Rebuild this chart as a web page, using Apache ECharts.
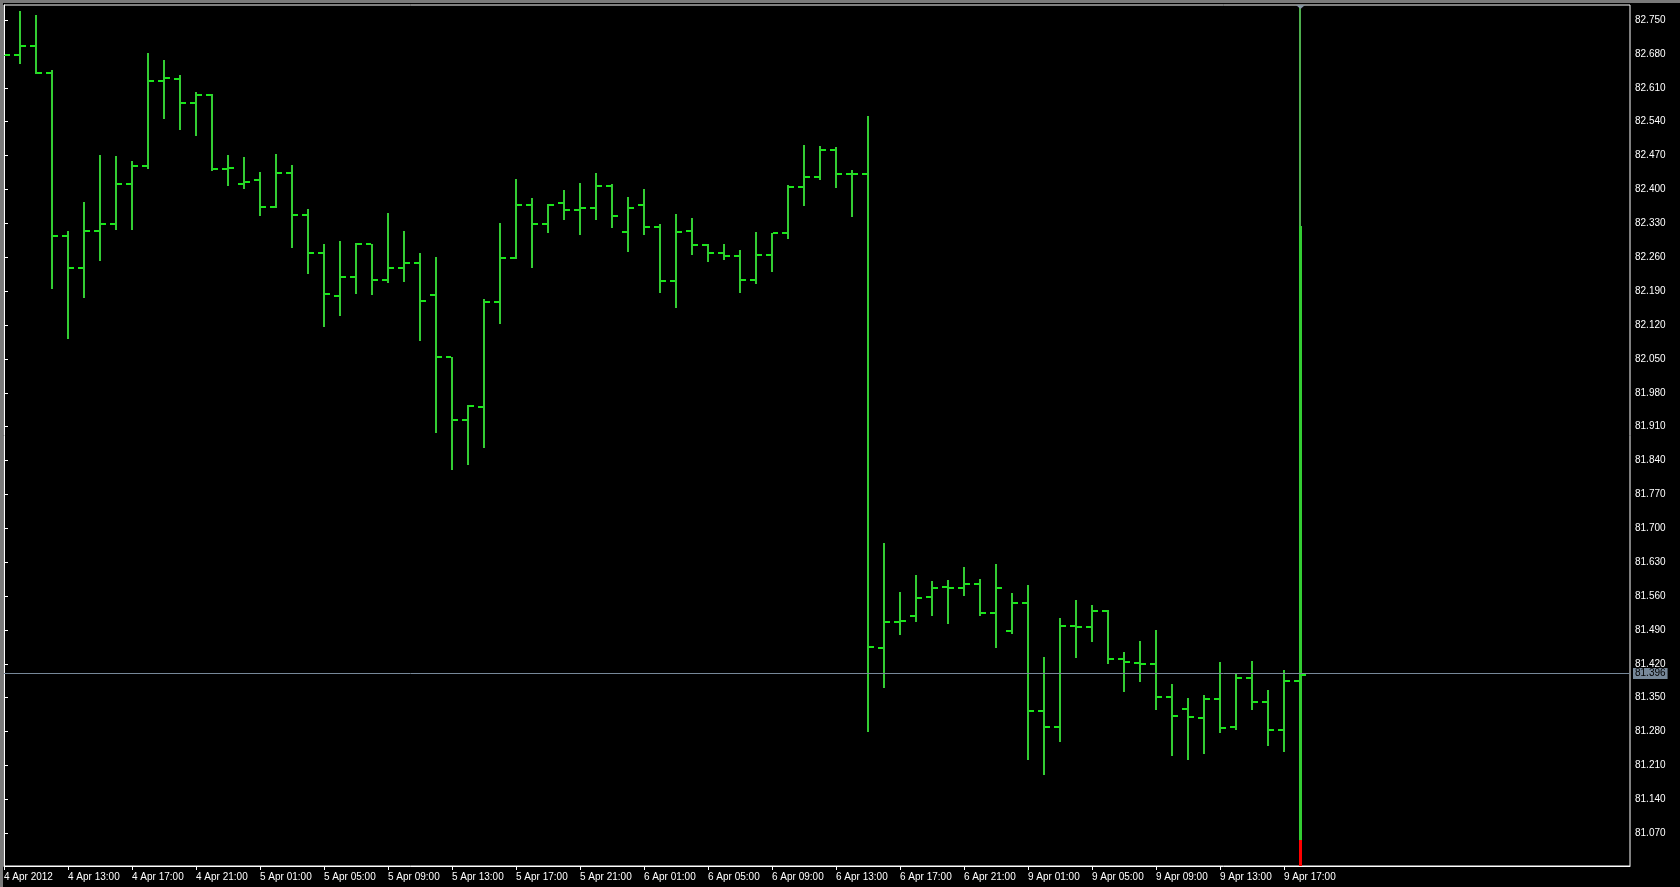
<!DOCTYPE html>
<html>
<head>
<meta charset="utf-8">
<script src="https://cdn.jsdelivr.net/npm/echarts@6/dist/echarts.min.js"></script>
<style>
html,body{margin:0;padding:0;background:#000;}
#chart{width:1680px;height:887px;}
</style>
</head>
<body>
<div id="chart"></div>
<script>
// ---- data (hourly bars, 4 Apr 2012 09:00 -> 9 Apr 2012 18:00) ----
const openPrices = [82.678,82.678,82.697,82.641,82.304,82.238,82.315,82.329,82.412,82.449,
  82.625,82.628,82.579,82.596,82.442,82.412,82.419,82.364,82.434,82.347,
  82.269,82.180,82.220,82.288,82.213,82.238,82.249,82.182,82.054,81.923,
  81.951,82.168,82.259,82.368,82.328,82.372,82.358,82.362,82.407,82.312,
  82.368,82.323,82.211,82.315,82.285,82.269,82.262,82.213,82.264,82.310,
  82.405,82.426,82.481,82.432,82.432,81.453,81.506,81.519,81.558,81.578,
  81.576,81.585,81.525,81.488,81.546,81.322,81.290,81.498,81.496,81.529,
  81.430,81.422,81.419,81.352,81.327,81.308,81.348,81.290,81.391,81.341,
  81.283,81.385];
const highPrices = [82.678,82.769,82.760,82.647,82.314,82.374,82.471,82.469,82.459,82.682,
  82.667,82.636,82.601,82.597,82.471,82.467,82.436,82.473,82.450,82.359,
  82.287,82.293,82.290,82.288,82.351,82.314,82.268,82.260,82.054,81.954,
  82.173,82.330,82.421,82.382,82.370,82.399,82.413,82.433,82.411,82.384,
  82.400,82.328,82.349,82.342,82.288,82.287,82.274,82.313,82.311,82.410,
  82.491,82.489,82.487,82.441,82.552,81.669,81.568,81.603,81.591,81.593,
  81.620,81.595,81.626,81.566,81.582,81.434,81.514,81.551,81.541,81.532,
  81.444,81.467,81.490,81.378,81.349,81.355,81.423,81.400,81.425,81.366,
  81.407,82.324];
const lowPrices = [82.678,82.662,82.641,82.196,82.093,82.178,82.254,82.319,82.319,82.444,
  82.547,82.525,82.513,82.441,82.410,82.403,82.348,82.363,82.282,82.228,
  82.118,82.141,82.186,82.184,82.209,82.211,82.089,81.899,81.822,81.833,
  81.868,82.125,82.258,82.240,82.313,82.339,82.308,82.339,82.323,82.273,
  82.308,82.189,82.158,82.267,82.253,82.257,82.189,82.207,82.232,82.300,
  82.368,82.422,82.406,82.346,81.281,81.372,81.482,81.509,81.520,81.505,
  81.562,81.521,81.454,81.484,81.224,81.193,81.261,81.434,81.467,81.422,
  81.364,81.385,81.327,81.232,81.224,81.236,81.279,81.286,81.327,81.252,
  81.240,81.058];
const closePrices = [82.678,82.697,82.641,82.304,82.238,82.315,82.329,82.412,82.449,82.625,
  82.631,82.579,82.596,82.442,82.445,82.416,82.364,82.434,82.347,82.269,
  82.184,82.220,82.288,82.213,82.238,82.249,82.169,82.054,81.923,81.953,
  82.168,82.259,82.368,82.328,82.368,82.357,82.362,82.407,82.345,82.362,
  82.323,82.211,82.312,82.285,82.269,82.262,82.213,82.264,82.310,82.405,
  82.426,82.481,82.432,82.432,81.454,81.506,81.509,81.556,81.576,81.576,
  81.585,81.525,81.576,81.546,81.322,81.290,81.498,81.496,81.529,81.430,
  81.424,81.420,81.352,81.312,81.310,81.348,81.288,81.391,81.341,81.283,
  81.385,81.396];
// last bar extremes beyond its main body (dim upper wick, red lower part)
const lastSpikeTop = 82.780;
const lastSpikeBottom = 81.003;
const bidPrice = 81.396;

const timeLabels = ["4 Apr 2012","4 Apr 13:00","4 Apr 17:00","4 Apr 21:00","5 Apr 01:00","5 Apr 05:00",
  "5 Apr 09:00","5 Apr 13:00","5 Apr 17:00","5 Apr 21:00","6 Apr 01:00","6 Apr 05:00","6 Apr 09:00",
  "6 Apr 13:00","6 Apr 17:00","6 Apr 21:00","9 Apr 01:00","9 Apr 05:00","9 Apr 09:00","9 Apr 13:00","9 Apr 17:00"];
const timeLabelBars = timeLabels.map((_, k) => k * 4);
const priceTicks = [81.070,81.140,81.210,81.280,81.350,81.420,81.490,81.560,81.630,81.700,81.770,81.840,
  81.910,81.980,82.050,82.120,82.190,82.260,82.330,82.400,82.470,82.540,82.610,82.680,82.750];

// ---- chart ----
const LINE = '#33cc33';
const TICK = '#1ae61a';
const barData = openPrices.map((o, i) => [i, o, highPrices[i], lowPrices[i], closePrices[i]]);
const lastIndex = barData.length - 1;

function renderBar(params, api) {
  const i = api.value(0);
  const pO = api.coord([i, api.value(1)]);
  const x = Math.round(pO[0]);
  const yO = Math.round(pO[1]);
  const yH = Math.round(api.coord([i, api.value(2)])[1]);
  const yL = Math.round(api.coord([i, api.value(3)])[1]);
  const yC = Math.round(api.coord([i, api.value(4)])[1]);
  const isLast = params.dataIndex === lastIndex;
  const children = [
    {type: 'rect', shape: {x: x - 1, y: yH, width: isLast ? 3 : 2, height: yL - yH + 1}, style: {fill: LINE}},
    {type: 'rect', shape: {x: x - 6, y: yO - 1, width: 5, height: 2}, style: {fill: TICK}},
    {type: 'rect', shape: {x: x + 1, y: yC - 1, width: 5, height: 2}, style: {fill: TICK}}
  ];
  if (isLast) {
    const yTop = Math.round(api.coord([i, lastSpikeTop])[1]);
    const yBot = Math.round(api.coord([i, lastSpikeBottom])[1]);
    children.push({type: 'rect', shape: {x: x - 1, y: yTop, width: 2, height: yH - yTop}, style: {fill: '#4dae4d'}});
    children.push({type: 'rect', shape: {x: x - 1, y: yL + 1, width: 3, height: yBot - yL}, style: {fill: '#ff0000'}});
    const gy = params.coordSys.y;
    children.push({type: 'polygon', shape: {points: [[x - 4, gy], [x + 5, gy], [x + 0.5, gy + 4]]}, style: {fill: '#8593a0'}});
  }
  return {type: 'group', children};
}

const chart = echarts.init(document.getElementById('chart'), null, {renderer: 'canvas'});
chart.setOption({
  backgroundColor: '#000',
  animation: false,
  textStyle: {fontFamily: 'Liberation Sans'},
  graphic: [
    {type: 'rect', left: 0, top: 0, shape: {width: 1680, height: 3}, style: {fill: '#7a7a7a'}, z: 100},
    {type: 'rect', left: 0, top: 0, shape: {width: 3, height: 887}, style: {fill: '#7a7a7a'}, z: 100}
  ],
  grid: {left: 4, top: 5, width: 1626, height: 861, show: true, borderColor: '#ffffff', borderWidth: 1, backgroundColor: '#000'},
  xAxis: {
    type: 'value', min: 0, max: 101.625,
    axisLine: {show: true, lineStyle: {color: '#fff', width: 1}},
    axisTick: {show: true, length: 4, lineStyle: {color: '#fff'}, customValues: timeLabelBars},
    axisLabel: {
      color: '#fff', fontSize: 10, align: 'left', margin: 6, fontFamily: 'Liberation Sans',
      customValues: timeLabelBars,
      formatter: v => timeLabels[Math.round(v / 4)] || ''
    },
    splitLine: {show: false}
  },
  yAxis: {
    type: 'value', position: 'right', min: 81.0024, max: 82.781, scale: true,
    axisLine: {show: true, lineStyle: {color: '#fff', width: 1}},
    axisTick: {show: true, length: 4, lineStyle: {color: '#fff'}, customValues: priceTicks},
    axisLabel: {
      color: '#fff', fontSize: 10, margin: 5, fontFamily: 'Liberation Sans',
      customValues: priceTicks,
      formatter: v => v.toFixed(3)
    },
    splitLine: {show: false}
  },
  series: [{
    type: 'custom',
    renderItem: renderBar,
    data: barData,
    clip: true,
    encode: {x: 0, y: [1, 2, 3, 4]},
    markLine: {
      silent: true,
      symbol: ['none', 'none'],
      animation: false,
      data: [{yAxis: bidPrice}],
      lineStyle: {color: '#778899', width: 1, type: 'solid'},
      label: {
        show: true, position: 'end', distance: 3,
        formatter: () => bidPrice.toFixed(3),
        backgroundColor: '#778899', color: '#000', fontSize: 10, fontFamily: 'Liberation Sans',
        padding: [1, 2, 0, 2]
      }
    }
  }]
});
</script>
</body>
</html>
